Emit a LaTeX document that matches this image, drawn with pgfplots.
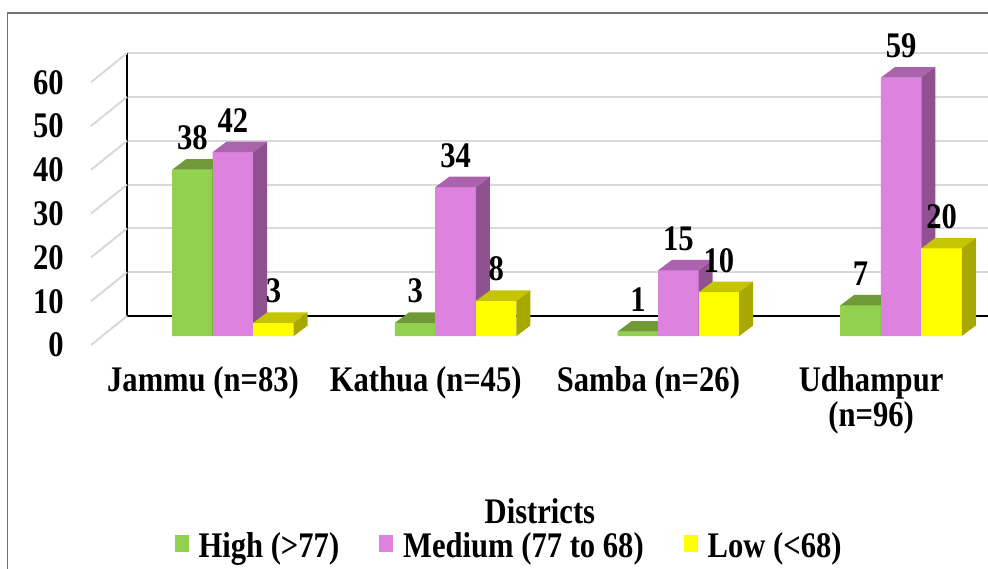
\documentclass[border=0pt]{standalone}
\usepackage{fontspec}
\setmainfont{Liberation Serif}[FakeStretch=0.85]
\usepackage{pgfplots}
\usepackage{pgfplotstable}
\pgfplotsset{compat=1.18}
\pgfkeys{/pgf/number format/assume math mode=true}

\definecolor{hgreen}{RGB}{146,208,80}
\definecolor{hgreentop}{RGB}{112,153,56}
\definecolor{hgreenside}{RGB}{92,128,46}
\definecolor{mpink}{RGB}{222,130,224}
\definecolor{mpinktop}{RGB}{171,99,173}
\definecolor{mpinkside}{RGB}{143,81,143}
\definecolor{lyellow}{RGB}{255,255,0}
\definecolor{lyellowtop}{RGB}{196,196,0}
\definecolor{lyellowside}{RGB}{168,168,0}
\definecolor{gridc}{RGB}{217,217,217}

\newcommand\myfont{\fontsize{18}{16}\selectfont\bfseries}

% whole 3d bar (front, top, side) drawn from its top; \val = value, y unit 2.19pt
\newcommand\declarebox[4]{%
  \pgfdeclareplotmark{#1}{%
    \pgfmathsetmacro\hc{-\val*2.19}%
    \pgfmathsetmacro\hb{5.25-\val*2.19}%
    \pgfsetfillcolor{#2}%
    \pgfpathrectanglecorners{\pgfpoint{-10.125pt}{0pt}}{\pgfpoint{10.125pt}{\hc pt}}%
    \pgfusepath{fill}%
    \pgfsetfillcolor{#3}%
    \pgfpathmoveto{\pgfpoint{-10.125pt}{0pt}}%
    \pgfpathlineto{\pgfpoint{10.125pt}{0pt}}%
    \pgfpathlineto{\pgfpoint{17.125pt}{5.25pt}}%
    \pgfpathlineto{\pgfpoint{-3.125pt}{5.25pt}}%
    \pgfpathclose
    \pgfusepath{fill}%
    \pgfsetfillcolor{#4}%
    \pgfpathmoveto{\pgfpoint{10.125pt}{0pt}}%
    \pgfpathlineto{\pgfpoint{17.125pt}{5.25pt}}%
    \pgfpathlineto{\pgfpoint{17.125pt}{\hb pt}}%
    \pgfpathlineto{\pgfpoint{10.125pt}{\hc pt}}%
    \pgfpathclose
    \pgfusepath{fill}%
  }}
\declarebox{boxgreen}{hgreen}{hgreentop}{hgreenside}
\declarebox{boxpink}{mpink}{mpinktop}{mpinkside}
\declarebox{boxyellow}{lyellow}{lyellowtop}{lyellowside}

\pgfplotstableread{
x high medium low
0 38 42 3
1 3 34 8
2 1 15 10
3 7 59 20
}\districts

\begin{document}
\myfont
\begin{tikzpicture}
\useasboundingbox (0,0) rectangle (494pt,-284pt);
\draw[black!55, line width=0.75pt] (3.75pt,-300pt) -- (3.75pt,-6.6pt) -- (510pt,-6.6pt);

% back wall
\begin{axis}[
    at={(63.5pt,-158pt)}, anchor=south west,
    scale only axis, x=111.35pt, y=2.19pt,
    xmin=0, xmax=3.866, ymin=0, ymax=60,
    axis x line*=bottom, axis y line*=left,
    axis line style={black, line width=1pt},
    xtick=\empty, ytick={0,10,...,60},
    major tick length=0pt,
    ymajorgrids, grid style={gridc, line width=1pt},
    yticklabel style={anchor=east, xshift=-25.5pt, yshift=-14.5pt, font=\myfont},
    clip=false,
]
\pgfplotsinvokeforeach{0,10,...,60}{
    \draw[gridc, line width=1pt] (axis cs:0,#1) -- ++(-18pt,-14.5pt);
}
\end{axis}

% bars
\begin{axis}[
    at={(51pt,-168pt)}, anchor=south west,
    scale only axis, x=111.35pt, y=2.19pt,
    xmin=-0.5882, xmax=3.6, ymin=0, ymax=62,
    axis line style={draw=none}, major tick length=0pt,
    ytick=\empty, xtick={0,1,2,3},
    xticklabels={Jammu (n=83), Kathua (n=45), Samba (n=26), {Udhampur\\(n=96)}},
    xticklabel style={align=center, anchor=north, xshift=-15pt, yshift=-9.3pt, font=\myfont},
    xlabel=Districts,
    xlabel style={at={(axis description cs:0.4695,-0.692)}, anchor=base, font=\myfont},
    nodes near coords align={anchor=base},
    every node near coord/.append style={yshift=10pt, text=black, font=\myfont},
    legend style={at={(0.4375,-0.781)}, anchor=center, draw=none, fill=none,
        legend columns=3, font=\myfont,
        /tikz/every odd column/.append style={column sep=3pt},
        /tikz/every even column/.append style={column sep=18pt}},
    clip=false,
]
\addplot[ybar, bar width=20.25pt, bar shift=-20.25pt, fill=hgreen, draw=none,
    legend image code/.code={\fill[hgreen] (0pt,-2pt) rectangle (7pt,6.5pt);}]
    table[x=x, y=high]{\districts};
\addplot[ybar, bar width=20.25pt, bar shift=0pt, fill=mpink, draw=none,
    legend image code/.code={\fill[mpink] (0pt,-2pt) rectangle (7pt,6.5pt);}]
    table[x=x, y=medium]{\districts};
\addplot[ybar, bar width=20.25pt, bar shift=20.25pt, fill=lyellow, draw=none,
    legend image code/.code={\fill[lyellow] (0pt,-2pt) rectangle (7pt,6.5pt);}]
    table[x=x, y=low]{\districts};
\addplot[forget plot, only marks, scatter, mark=boxgreen, nodes near coords,
    visualization depends on={\thisrow{high}\as\val}]
    table[x expr=\thisrow{x}-0.181859, y=high]{\districts};
\addplot[forget plot, only marks, scatter, mark=boxpink, nodes near coords,
    visualization depends on={\thisrow{medium}\as\val}]
    table[x=x, y=medium]{\districts};
\addplot[forget plot, only marks, scatter, mark=boxyellow, nodes near coords,
    visualization depends on={\thisrow{low}\as\val}]
    table[x expr=\thisrow{x}+0.181859, y=low]{\districts};
\legend{High (>77), Medium (77 to 68), Low (<68)}
\end{axis}
\end{tikzpicture}
\end{document}
